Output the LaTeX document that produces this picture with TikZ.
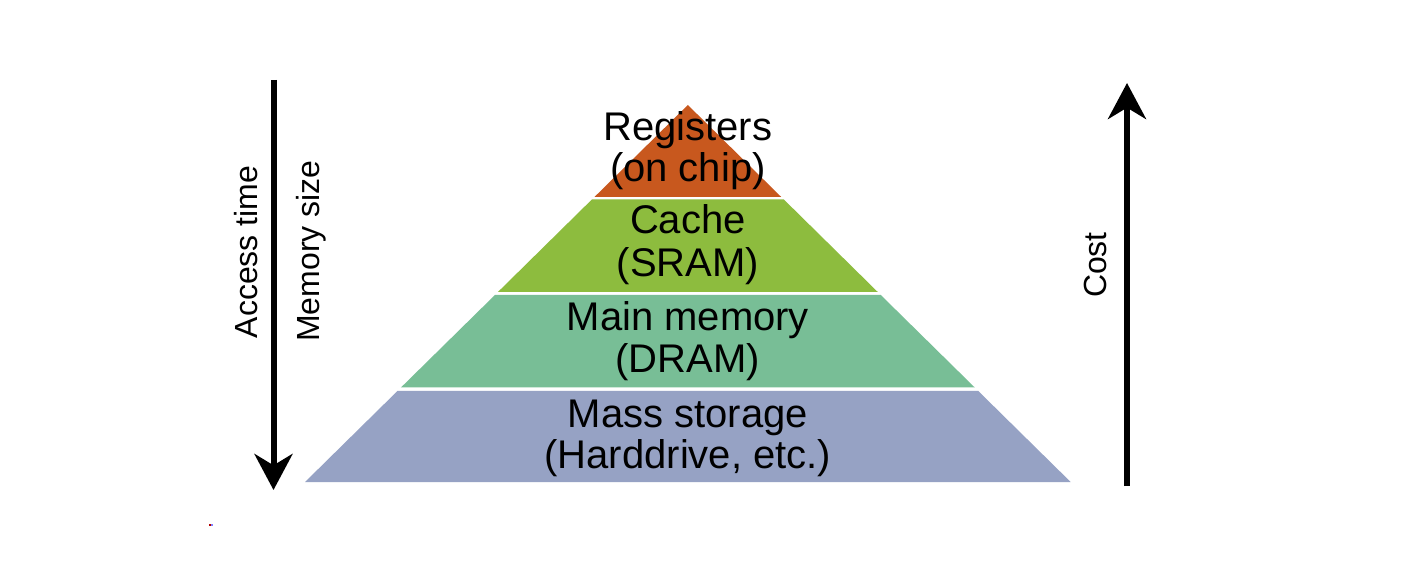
\documentclass[tikz,border=0pt]{standalone}
\usepackage{fontspec}
\setmainfont{Liberation Sans}
\usetikzlibrary{arrows.meta}
\definecolor{regc}{HTML}{C8581E}
\definecolor{cachec}{HTML}{8DBC3E}
\definecolor{mainc}{HTML}{78BE96}
\definecolor{massc}{HTML}{96A2C4}
\tikzset{
  layertext/.style={anchor=base, inner sep=0pt, font=\fontsize{30}{36}\selectfont, text=black},
  sidetext/.style={anchor=base, inner sep=0pt, rotate=90, font=\fontsize{24}{29}\selectfont, text=black},
  bigarrow/.style={line width=4.5pt, draw=black, -{Stealth[length=27pt, width=28.5pt, inset=8.5pt]}},
}
\begin{document}
\begin{tikzpicture}[x=0.75pt,y=-0.75pt]
\useasboundingbox (0,0) rectangle (1410,566);
\fill[white] (0,0) rectangle (1410,566);
% pyramid layers (centre x = 687.85)
\fill[regc]   (687.85,105) -- (781.05,196.8) -- (594.65,196.8) -- cycle;
\fill[cachec] (591.85,199.5) -- (783.85,199.5) -- (877.75,292) -- (497.95,292) -- cycle;
\fill[mainc]  (494.95,295) -- (880.75,295) -- (974.75,387.5) -- (400.95,387.5) -- cycle;
\fill[massc]  (397.65,390.8) -- (978.05,390.8) -- (1070.65,482) -- (305.05,482) -- cycle;
% texts
\node[layertext] (reg1) at (687.85,141) {Registers};
\node[layertext] (reg2) at (687.85,182) {(on chip)};
\node[layertext] (cac1) at (687.85,234) {Cache};
\node[layertext] (cac2) at (687.85,277) {(SRAM)};
\node[layertext] (mm1) at (687.85,331) {Main memory};
\node[layertext] (mm2) at (687.85,373) {(DRAM)};
\node[layertext] (ms1) at (687.85,427) {Mass storage};
\node[layertext] (ms2) at (687.85,469) {(Harddrive, etc.)};
% side arrows
\coordinate (la) at (273.5,80);
\coordinate (lb) at (273.5,490);
\coordinate (ra) at (1127,486);
\coordinate (rb) at (1127,83);
\draw[bigarrow] (la) -- (lb);
\draw[bigarrow] (ra) -- (rb);
\node[sidetext] (acc) at (257,252) {Access time};
\node[sidetext] (mem) at (319,251) {Memory size};
\node[sidetext] (cost) at (1106,265) {Cost};
% tiny mark
\fill[red!70!black] (209,524) rectangle (211,526);
\fill[blue!50] (211,524) rectangle (213,526);
\end{tikzpicture}
\end{document}
